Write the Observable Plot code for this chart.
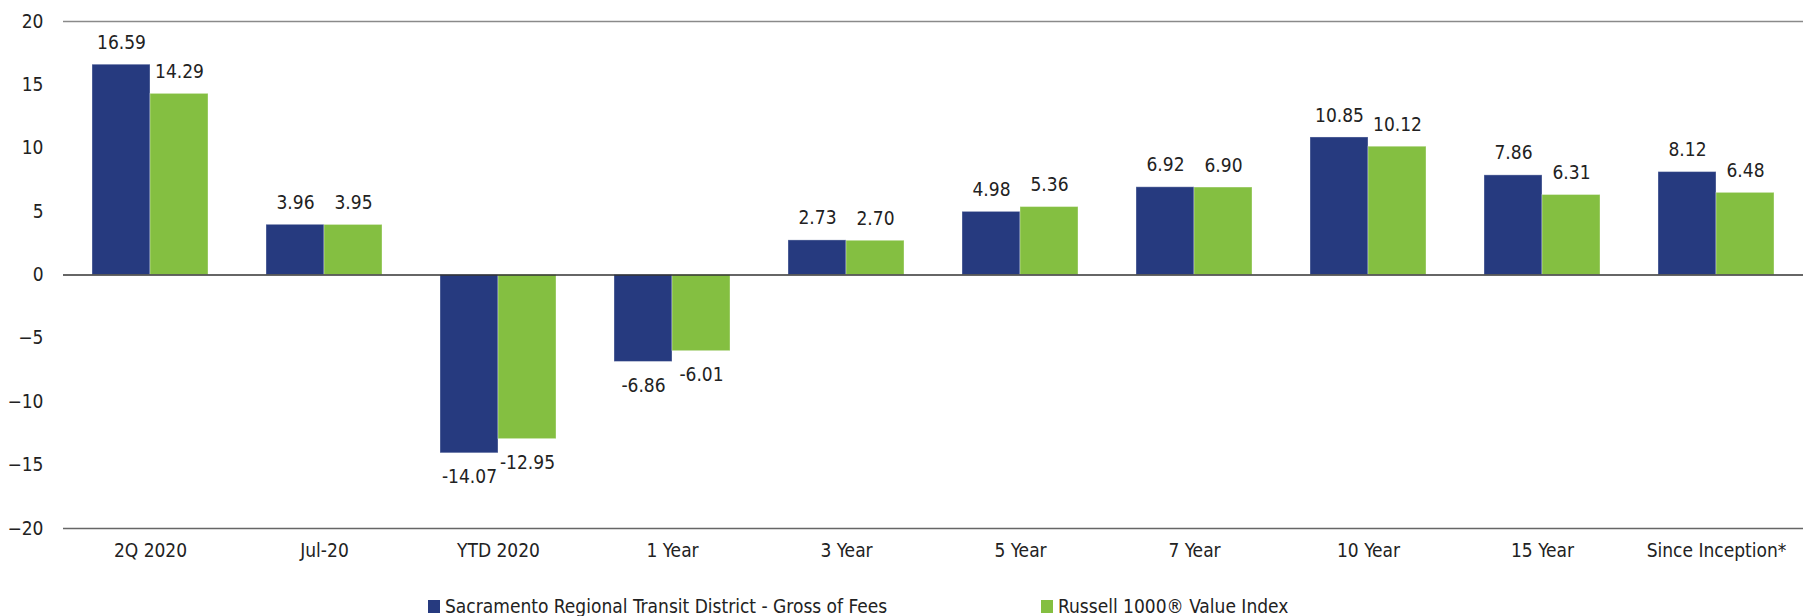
<!DOCTYPE html>
<html><head><meta charset="utf-8">
<script src="https://cdn.jsdelivr.net/npm/d3@7"></script>
<script src="https://cdn.jsdelivr.net/npm/@observablehq/plot@0.6"></script>
<style>
body{margin:0;background:#fff;font-family:"DejaVu Sans Condensed","Liberation Sans Narrow",sans-serif;color:#222;}
#chart{position:absolute;left:0;top:0;}
#legend{position:absolute;left:428px;top:595px;display:flex;font-size:19px;color:#222;}
.item{display:flex;align-items:center;}
.item:first-child{width:613px;}
.sw{width:12px;height:13px;margin-right:5px;display:inline-block;}
</style></head><body><div id="chart"></div><div id="legend"></div>
<script>
const categories = ["2Q 2020","Jul-20","YTD 2020","1 Year","3 Year","5 Year","7 Year","10 Year","15 Year","Since Inception*"];
const seriesNames = ["Sacramento Regional Transit District - Gross of Fees","Russell 1000® Value Index"];
const portfolio = [16.59,3.96,-14.07,-6.86,2.73,4.98,6.92,10.85,7.86,8.12];
const benchmark = [14.29,3.95,-12.95,-6.01,2.70,5.36,6.90,10.12,6.31,6.48];
const colors = ["#263a7f","#84bf41"];
const yTicks = [20,15,10,5,0,-5,-10,-15,-20];

const data = [];
categories.forEach((c,i)=>{
  data.push({category:c, series:seriesNames[0], value:portfolio[i]});
  data.push({category:c, series:seriesNames[1], value:benchmark[i]});
});
const pos = data.filter(d=>d.value>=0), neg = data.filter(d=>d.value<0);

const chart = Plot.plot({
  width:1806, height:575,
  marginTop:21, marginBottom:47, marginLeft:59, marginRight:0,
  style:{fontFamily:'"DejaVu Sans Condensed","Liberation Sans Narrow",sans-serif', fontSize:"19px", color:"#222", background:"#fff"},
  fx:{domain:categories, paddingInner:0, paddingOuter:0, label:null, axis:"bottom", tickSize:0, tickPadding:15},
  x:{domain:seriesNames, paddingInner:0, paddingOuter:0.48, axis:null},
  y:{domain:[-20,20], axis:null},
  color:{domain:seriesNames, range:colors},
  marks:[
    Plot.ruleY([20], {stroke:"#8a8a8a", strokeWidth:1.5}),
    Plot.ruleY([-20], {stroke:"#666", strokeWidth:1.5}),
    Plot.axisY({ticks:yTicks, tickSize:0, tickPadding:20, label:null, line:true, stroke:"#888", fill:"#222"}),
    Plot.barY(data, {fx:"category", x:"series", y:"value", fill:"series", stroke:"#fff", strokeOpacity:0.35, strokeWidth:1}),
    Plot.ruleY([0], {stroke:"#333", strokeWidth:1.5}),
    Plot.text(pos, {fx:"category", x:"series", y:"value", text:d=>d.value.toFixed(2), dy:-22, fill:"#222"}),
    Plot.text(neg, {fx:"category", x:"series", y:"value", text:d=>d.value.toFixed(2), dy:24, fill:"#222"})
  ]
});
document.getElementById("chart").appendChild(chart);

const legend = document.getElementById("legend");
seriesNames.forEach((s,i)=>{
  const it = document.createElement("div"); it.className="item";
  const sw = document.createElement("span"); sw.className="sw"; sw.style.background=colors[i];
  const t = document.createElement("span"); t.textContent=s;
  it.appendChild(sw); it.appendChild(t); legend.appendChild(it);
});
</script></body></html>
